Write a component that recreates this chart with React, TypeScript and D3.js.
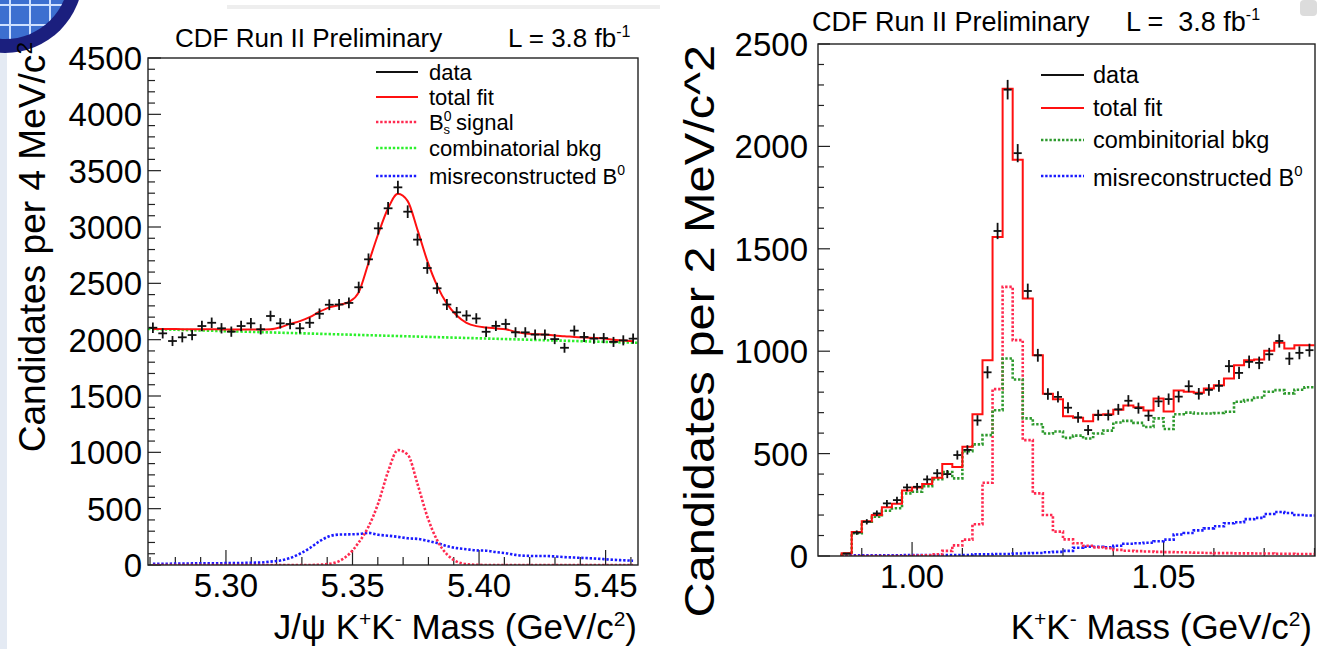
import React from 'react';
import * as d3 from 'd3';

// ---------------- Left panel: J/psi K+K- mass ----------------
const leftXDomain = [5.2692, 5.4628];
const leftYDomain = [0, 4500];
const leftXTicks = [5.3, 5.35, 5.4, 5.45];
const leftXTickLabels = ['5.30', '5.35', '5.40', '5.45'];
const leftYTicks = [0, 500, 1000, 1500, 2000, 2500, 3000, 3500, 4000, 4500];
const leftData = [2106, 2056, 1988, 2021, 2041, 2121, 2150, 2101, 2071, 2121, 2145, 2092, 2210, 2145, 2139, 2101, 2150, 2230, 2310, 2312, 2326, 2465, 2713, 2988, 3166, 3352, 3136, 2888, 2636, 2456, 2312, 2243, 2214, 2188, 2070, 2122, 2139, 2065, 2065, 2045, 2045, 2005, 1928, 2080, 2024, 2009, 2014, 1980, 1994, 2009];
const leftTotalFit = [2095, 2095, 2094, 2093, 2093, 2092, 2092, 2091, 2090, 2090, 2090, 2090, 2092, 2110, 2140, 2165, 2200, 2248, 2287, 2308, 2335, 2420, 2680, 2940, 3166, 3295, 3230, 2975, 2700, 2480, 2320, 2215, 2150, 2120, 2108, 2100, 2092, 2070, 2055, 2049, 2045, 2036, 2031, 2024, 2019, 2015, 2010, 2000, 1993, 1985];
const leftSignal = [0, 0, 0, 0, 0, 0, 0, 0, 0, 0, 0, 0, 0, 0, 0, 0, 0, 3, 10, 35, 95, 200, 340, 550, 830, 1020, 980, 720, 430, 220, 95, 30, 8, 2, 0, 0, 0, 0, 0, 0, 0, 0, 0, 0, 0, 0, 0, 0, 0, 0];
const leftMisreco = [10, 10, 12, 12, 14, 15, 15, 16, 17, 18, 20, 22, 30, 40, 62, 100, 150, 210, 255, 270, 272, 275, 285, 268, 260, 250, 237, 232, 215, 195, 168, 150, 140, 130, 127, 115, 105, 90, 82, 80, 80, 76, 70, 66, 62, 58, 52, 46, 42, 38];
const leftCombMass = [5.2692, 5.4628];
const leftCombBkg = [2095, 1972];

// ---------------- Right panel: K+K- mass ----------------
const rightXDomain = [0.9813, 1.0801];
const rightYDomain = [0, 2500];
const rightXTicks = [1.0, 1.05];
const rightXTickLabels = ['1.00', '1.05'];
const rightYTicks = [0, 500, 1000, 1500, 2000, 2500];
const rightFirstEdge = 0.986;
const rightBinWidth = 0.002;
const rightData = [12, 114, 167, 208, 257, 273, 335, 338, 374, 404, 400, 493, 518, 662, 897, 1587, 2277, 1967, 1294, 980, 791, 777, 724, 677, 615, 688, 688, 716, 758, 722, 685, 755, 766, 778, 829, 792, 811, 831, 927, 894, 948, 943, 985, 1050, 964, 992, 1005];
const rightTotalFit = [14, 117, 170, 200, 238, 255, 320, 334, 351, 382, 449, 435, 533, 692, 956, 1558, 2281, 1935, 1257, 980, 792, 765, 682, 675, 658, 690, 692, 714, 735, 726, 710, 769, 706, 808, 802, 797, 818, 834, 867, 932, 956, 959, 1002, 1041, 1013, 1029, 1029];
const rightCombBkg = [12, 111, 167, 192, 221, 233, 306, 314, 341, 375, 410, 379, 512, 545, 590, 712, 964, 862, 672, 643, 598, 608, 577, 588, 574, 598, 612, 652, 660, 650, 630, 672, 620, 692, 700, 696, 696, 698, 704, 753, 761, 774, 802, 810, 794, 812, 824];
const rightSignal = [0, 0, 0, 0, 0, 0, 0, 2, 4, 8, 25, 52, 80, 155, 358, 815, 1314, 1054, 566, 306, 200, 119, 81, 62, 50, 42, 38, 30, 26, 24, 22, 20, 19, 18, 17, 16, 15, 14, 14, 13, 13, 12, 12, 11, 11, 10, 10];
const rightMisreco = [3, 3, 3, 3, 3, 3, 5, 5, 5, 5, 5, 5, 5, 8, 8, 10, 10, 12, 14, 15, 18, 20, 25, 40, 45, 45, 42, 50, 60, 62, 65, 72, 80, 105, 112, 125, 135, 145, 160, 165, 180, 186, 205, 215, 210, 200, 198];

const FONT = '"Liberation Sans", Arial, Helvetica, sans-serif';
const RED = '#ff1010';
const RED_DOT = '#ff2a50';
const GREEN_L = '#2cf02c';
const GREEN_R = '#2e9a2e';
const BLUE = '#1a1aff';
const DOT = '2.4 1.8';

function Crosses({ xs, x0s, x1s, vals, y }: any) {
  return (
    <g stroke="#111" strokeWidth={1.8}>
      {vals.map((v: number, i: number) => {
        const e = Math.sqrt(v);
        return (
          <g key={i}>
            <line x1={x0s[i]} x2={x1s[i]} y1={y(v)} y2={y(v)} />
            <line x1={xs[i]} x2={xs[i]} y1={y(v - e)} y2={y(v + e)} />
          </g>
        );
      })}
    </g>
  );
}

export default function App() {
  // ---- left scales
  const L = { x0: 148, x1: 638, y0: 565, y1: 58 };
  const lx = d3.scaleLinear().domain(leftXDomain).range([L.x0, L.x1]);
  const ly = d3.scaleLinear().domain(leftYDomain).range([L.y0, L.y1]);
  const lbw = (leftXDomain[1] - leftXDomain[0]) / leftData.length;
  const lCenters = leftData.map((_, i) => leftXDomain[0] + (i + 0.5) * lbw);
  const lLine = (vals: number[]) =>
    d3.line<number>().x((_, i) => lx(lCenters[i])).y((v) => ly(v)).curve(d3.curveMonotoneX)(vals) || '';
  const lComb = d3.line<number>().x((_, i) => lx(leftCombMass[i])).y((v) => ly(v))(leftCombBkg) || '';

  // ---- right scales
  const R = { x0: 818, x1: 1315, y0: 556, y1: 44 };
  const rx = d3.scaleLinear().domain(rightXDomain).range([R.x0, R.x1]);
  const ry = d3.scaleLinear().domain(rightYDomain).range([R.y0, R.y1]);
  const rEdges = d3.range(rightData.length + 1).map((k) => rightFirstEdge + k * rightBinWidth);
  const rStep = (vals: number[]) => {
    const pts: [number, number][] = [[rEdges[0], 0]];
    vals.forEach((v, k) => pts.push([rEdges[k], v]));
    pts.push([rEdges[vals.length], vals[vals.length - 1]]);
    return d3.line<[number, number]>().x((d) => rx(d[0])).y((d) => ry(d[1])).curve(d3.curveStepAfter)(pts) || '';
  };

  const lMinorY = d3.range(0, 4501, 100);
  const lMinorX = d3.range(5.27, 5.4601, 0.01);
  const rMinorY = d3.range(0, 2501, 100);
  const rMinorX = d3.range(0.99, 1.0801, 0.01);

  const tickFont = 33;

  return (
    <svg width={1317} height={649} style={{ position: 'absolute', left: 0, top: 0, background: '#fff' }} fontFamily={FONT}>
      <rect x={0} y={0} width={1317} height={649} fill="#fff" />
      {/* slide decorations */}
      <rect x={0} y={45} width={7} height={604} fill="#e4eaf3" />
      <rect x={227} y={5} width={433} height={4} fill="#eeeeee" />
      <rect x={1300} y={0} width={17} height={16} fill="#dcdcdc" rx={4} />
      <defs>
        <clipPath id="logoIn"><circle cx={5} cy={-25} r={64} /></clipPath>
        <clipPath id="clipR"><rect x={R.x0} y={R.y1} width={R.x1 - R.x0} height={R.y0 - R.y1} /></clipPath>
        <clipPath id="clipL"><rect x={L.x0} y={L.y1} width={L.x1 - L.x0} height={L.y0 - L.y1} /></clipPath>
      </defs>
      <circle cx={5} cy={-25} r={78} fill="#1b1f7e" />
      <circle cx={5} cy={-25} r={64} fill="#3d6fd0" />
      <g clipPath="url(#logoIn)" stroke="#cfe0ff" strokeWidth={2}>
        {[-40, -20, 0, 20, 40].map((d) => <line key={'v' + d} x1={10 + d} x2={10 + d} y1={-100} y2={60} />)}
        {[-15, 5, 25].map((d) => <line key={'h' + d} x1={-80} x2={80} y1={d} y2={d} />)}
      </g>

      {/* ================= LEFT PANEL ================= */}
      <text x={175} y={47} fontSize={26}>CDF Run II Preliminary</text>
      <text x={508} y={47} fontSize={26}>L = 3.8 fb<tspan dy={-10} fontSize={16}>-1</tspan></text>

      <g stroke="#222" strokeWidth={1.2}>
        {lMinorY.map((v) => (
          <line key={'ly' + v} x1={L.x0} x2={L.x0 + (v % 500 === 0 ? 13 : 7)} y1={ly(v)} y2={ly(v)} />
        ))}
        {lMinorX.map((v, i) => {
          const major = leftXTicks.some((t) => Math.abs(t - v) < 1e-6);
          return <line key={'lx' + i} x1={lx(v)} x2={lx(v)} y1={L.y0} y2={L.y0 - (major ? 15 : 8)} />;
        })}
      </g>
      {leftYTicks.map((v) => (
        <text key={'lyt' + v} x={142} y={ly(v) + 12} fontSize={tickFont} textAnchor="end">{v}</text>
      ))}
      {leftXTicks.map((v, i) => (
        <text key={'lxt' + v} x={lx(v)} y={597} fontSize={tickFont} textAnchor="middle">{leftXTickLabels[i]}</text>
      ))}
      <text x={637} y={639} fontSize={35} textAnchor="end">
        J/ψ K<tspan dy={-13} fontSize={21}>+</tspan><tspan dy={13}>K</tspan><tspan dy={-13} fontSize={21}>-</tspan><tspan dy={13}> Mass (GeV/c</tspan><tspan dy={-13} fontSize={21}>2</tspan><tspan dy={13}>)</tspan>
      </text>
      <text transform="translate(45,42) rotate(-90) scale(1.03,1)" fontSize={36} textAnchor="end">
        Candidates per 4 MeV/c<tspan dy={-13} fontSize={22}>2</tspan>
      </text>

      <g clipPath="url(#clipL)" fill="none">
        <path d={lComb} stroke={GREEN_L} strokeWidth={2.6} strokeDasharray={DOT} />
        <path d={lLine(leftMisreco)} stroke={BLUE} strokeWidth={2.6} strokeDasharray={DOT} />
        <path d={lLine(leftSignal)} stroke={RED_DOT} strokeWidth={2.6} strokeDasharray={DOT} />
        <path d={lLine(leftTotalFit)} stroke={RED} strokeWidth={2} />
      </g>
      <Crosses
        xs={lCenters.map((c) => lx(c))}
        x0s={lCenters.map((c) => lx(c - lbw / 2) + 0.5)}
        x1s={lCenters.map((c) => lx(c + lbw / 2) - 0.5)}
        vals={leftData}
        y={ly}
      />
      <rect x={L.x0} y={L.y1} width={L.x1 - L.x0} height={L.y0 - L.y1} fill="none" stroke="#222" strokeWidth={1.4} />

      {/* left legend */}
      <g fontSize={22}>
        <line x1={376} x2={418} y1={72} y2={72} stroke="#111" strokeWidth={2} />
        <text x={429} y={80}>data</text>
        <line x1={376} x2={418} y1={97} y2={97} stroke={RED} strokeWidth={2} />
        <text x={429} y={105}>total fit</text>
        <line x1={376} x2={418} y1={122} y2={122} stroke={RED_DOT} strokeWidth={2.6} strokeDasharray={DOT} />
        <text x={429} y={130}>B<tspan dy={-9} fontSize={14}>0</tspan><tspan dx={-8} dy={13} fontSize={13}>s</tspan><tspan dy={-4}> signal</tspan></text>
        <line x1={376} x2={418} y1={148} y2={148} stroke={GREEN_L} strokeWidth={2.6} strokeDasharray={DOT} />
        <text x={429} y={156}>combinatorial bkg</text>
        <line x1={376} x2={418} y1={176} y2={176} stroke={BLUE} strokeWidth={2.6} strokeDasharray={DOT} />
        <text x={429} y={184}>misreconstructed B<tspan dy={-9} fontSize={14}>0</tspan></text>
      </g>

      {/* ================= RIGHT PANEL ================= */}
      <text x={812} y={31} fontSize={27}>CDF Run II Preliminary</text>
      <text x={1126} y={31} fontSize={27} style={{ whiteSpace: 'pre' }}>L =  3.8 fb<tspan dy={-11} fontSize={16}>-1</tspan></text>

      <g stroke="#222" strokeWidth={1.2}>
        {rMinorY.map((v) => (
          <line key={'ry' + v} x1={R.x0} x2={R.x0 + (v % 500 === 0 ? 12 : 6)} y1={ry(v)} y2={ry(v)} />
        ))}
        {rMinorX.map((v, i) => {
          const major = rightXTicks.some((t) => Math.abs(t - v) < 1e-6);
          return <line key={'rx' + i} x1={rx(v)} x2={rx(v)} y1={R.y0} y2={R.y0 - (major ? 14 : 8)} />;
        })}
      </g>
      {rightYTicks.map((v) => (
        <text key={'ryt' + v} x={808} y={ry(v) + 12} fontSize={tickFont} textAnchor="end">{v}</text>
      ))}
      {rightXTicks.map((v, i) => (
        <text key={'rxt' + v} x={rx(v)} y={588} fontSize={tickFont} textAnchor="middle">{rightXTickLabels[i]}</text>
      ))}
      <text x={1312} y={639} fontSize={35} textAnchor="end">
        K<tspan dy={-13} fontSize={21}>+</tspan><tspan dy={13}>K</tspan><tspan dy={-13} fontSize={21}>-</tspan><tspan dy={13}> Mass (GeV/c</tspan><tspan dy={-13} fontSize={21}>2</tspan><tspan dy={13}>)</tspan>
      </text>
      <text transform="translate(714,45) rotate(-90) scale(1.16,1)" fontSize={42} textAnchor="end">
        Candidates per 2 MeV/c^2
      </text>

      <g clipPath="url(#clipR)" fill="none">
        <path d={rStep(rightMisreco)} stroke={BLUE} strokeWidth={2.6} strokeDasharray={DOT} />
        <path d={rStep(rightSignal)} stroke={RED_DOT} strokeWidth={2.6} strokeDasharray={DOT} />
        <path d={rStep(rightCombBkg)} stroke={GREEN_R} strokeWidth={2.6} strokeDasharray={DOT} />
        <path d={rStep(rightTotalFit)} stroke={RED} strokeWidth={2} />
      </g>
      <Crosses
        xs={rightData.map((_, k) => rx(rEdges[k] + rightBinWidth / 2))}
        x0s={rightData.map((_, k) => rx(rEdges[k]) + 1)}
        x1s={rightData.map((_, k) => rx(rEdges[k + 1]) - 1)}
        vals={rightData}
        y={ry}
      />
      <rect x={R.x0} y={R.y1} width={R.x1 - R.x0} height={R.y0 - R.y1} fill="none" stroke="#222" strokeWidth={1.4} />

      {/* right legend */}
      <g fontSize={23.5}>
        <line x1={1041} x2={1084} y1={75} y2={75} stroke="#111" strokeWidth={2} />
        <text x={1093} y={83}>data</text>
        <line x1={1041} x2={1084} y1={108} y2={108} stroke={RED} strokeWidth={2} />
        <text x={1093} y={116}>total fit</text>
        <line x1={1041} x2={1084} y1={140} y2={140} stroke={GREEN_R} strokeWidth={2.6} strokeDasharray={DOT} />
        <text x={1093} y={148}>combinitorial bkg</text>
        <line x1={1041} x2={1084} y1={176} y2={176} stroke={BLUE} strokeWidth={2.6} strokeDasharray={DOT} />
        <text x={1093} y={186}>misreconstructed B<tspan dy={-10} fontSize={15}>0</tspan></text>
      </g>
    </svg>
  );
}
